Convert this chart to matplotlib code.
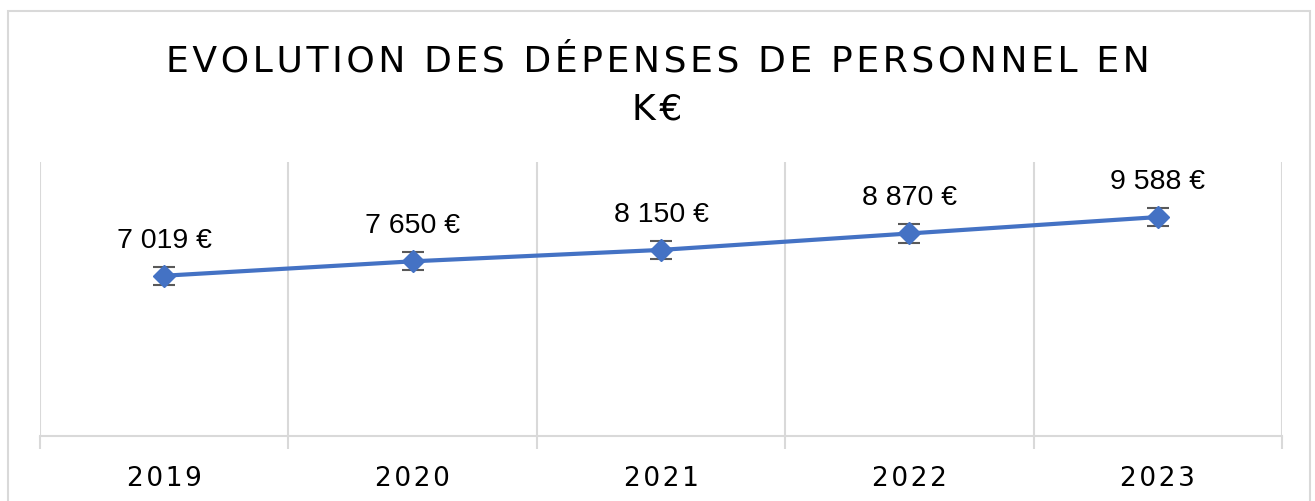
import matplotlib
matplotlib.use("Agg")
import matplotlib.pyplot as plt
from matplotlib.patches import Rectangle

years = ["2019", "2020", "2021", "2022", "2023"]
values = [7019, 7650, 8150, 8870, 9588]
errors = [400, 400, 400, 400, 400]
labels = ["7 019 €", "7 650 €", "8 150 €", "8 870 €", "9 588 €"]
title_lines = ["EVOLUTION DES DÉPENSES DE PERSONNEL EN", "K€"]

HS = "\u200a"


def spaced(s):
    return HS.join(s)


W, H = 1315, 502
fig = plt.figure(figsize=(W / 100, H / 100), dpi=100)
fig.patch.set_facecolor("white")

# outer chart border
fig.patches.append(Rectangle((8 / W, -0.05), (1310 - 8) / W, 1.05 - 12 / H,
                             transform=fig.transFigure, fill=False,
                             edgecolor="#D9D9D9", lw=1.5))

ax = fig.add_axes([40 / W, 1 - 437 / H, (1282 - 40) / W, (437 - 163) / H])
x = list(range(len(years)))
ax.errorbar(x, values, yerr=errors, color="#4472C4", lw=3, marker="D",
            markersize=11, ecolor="#595959", elinewidth=1.5, capsize=8,
            capthick=1.5, zorder=3)
for xi, v, lab in zip(x, values, labels):
    ax.annotate(lab, (xi, v), xytext=(0, 26), textcoords="offset points",
                ha="center", va="center", fontsize=20.5, color="black",
                family=["Liberation Sans", "DejaVu Sans"])

ax.set_xlim(-0.5, len(years) - 0.5)
ax.set_ylim(0, 12000)
ax.set_yticks([])
ax.set_xticks([i - 0.5 for i in range(len(years) + 1)], minor=False)
ax.set_xticklabels([])
ax.set_xticks(x, minor=True)
ax.set_xticklabels([spaced(y) for y in years], minor=True, fontsize=19)
ax.tick_params(axis="x", which="minor", length=0, pad=21)
ax.tick_params(axis="x", which="major", length=9, color="#D9D9D9", width=1.5)
ax.grid(axis="x", which="major", color="#D9D9D9", lw=1.5)
for s in ["top", "right", "left"]:
    ax.spines[s].set_visible(False)
ax.spines["bottom"].set_color("#D9D9D9")
ax.spines["bottom"].set_linewidth(1.5)

fig.text(0.5, 1 - 61 / H, spaced(title_lines[0]), ha="center", va="center",
         fontsize=26)
fig.text(0.5, 1 - 110 / H, spaced(title_lines[1]), ha="center", va="center",
         fontsize=26)

fig.savefig("out.png", dpi=100)
